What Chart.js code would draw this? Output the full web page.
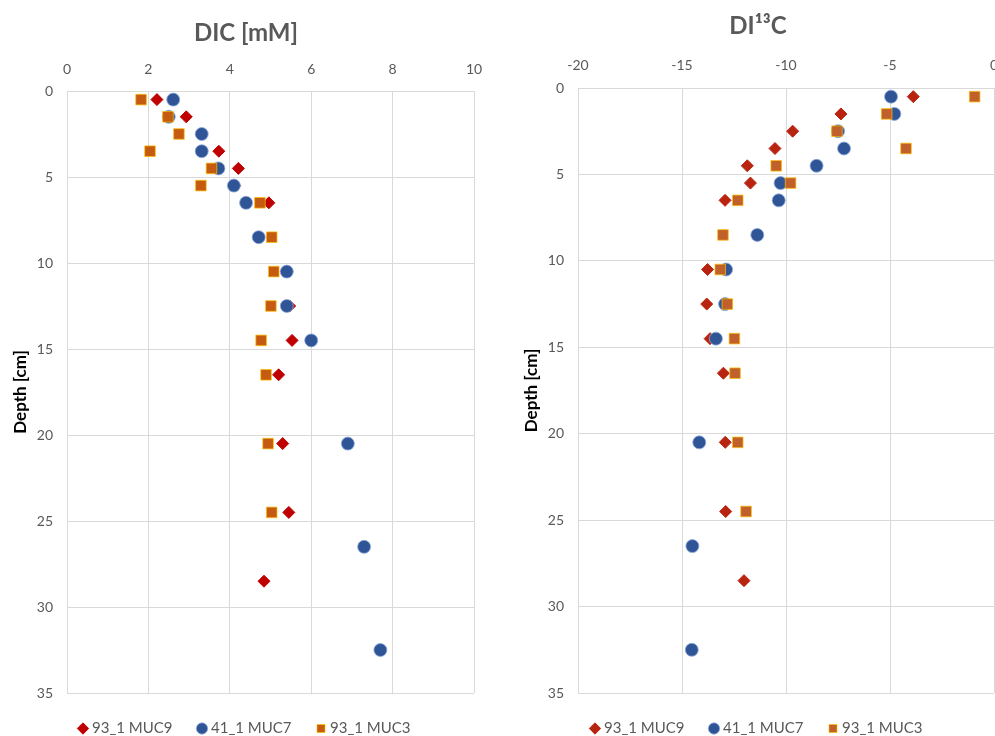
<!DOCTYPE html>
<html>
<head>
<meta charset="utf-8">
<script src="https://cdn.jsdelivr.net/npm/chart.js@4.4.1/dist/chart.umd.min.js"></script>
<style>
  html, body { margin: 0; padding: 0; background: #fff; overflow: hidden; }
  #boxDic { position: absolute; left: 0; top: 0; width: 497px; height: 736px; }
  #boxIso { position: absolute; left: 497px; top: 0; width: 520px; height: 736px; }
</style>
</head>
<body>
<div id="boxDic"><canvas id="chartDic"></canvas></div>
<div id="boxIso"><canvas id="chartIso"></canvas></div>
<script>
// core names (legend)
const coreNames = ["93_1 MUC9", "41_1 MUC7", "93_1 MUC3"];

// sampling depths in cm, one list per core
const depthMuc9 = [0.5, 1.5, 2.5, 3.5, 4.5, 5.5, 6.5, 10.5, 12.5, 14.5, 16.5, 20.5, 24.5, 28.5];
const depthMuc7 = [0.5, 1.5, 2.5, 3.5, 4.5, 5.5, 6.5, 8.5, 10.5, 12.5, 14.5, 20.5, 26.5, 32.5];
const depthMuc3 = [0.5, 1.5, 2.5, 3.5, 4.5, 5.5, 6.5, 8.5, 10.5, 12.5, 14.5, 16.5, 20.5, 24.5];

// DIC [mM]
const dicMuc9 = [2.21, 2.93, 3.30, 3.73, 4.21, 4.12, 4.96, 5.40, 5.47, 5.53, 5.20, 5.30, 5.45, 4.84];
const dicMuc7 = [2.61, 2.50, 3.31, 3.31, 3.72, 4.10, 4.40, 4.71, 5.40, 5.40, 6.00, 6.90, 7.30, 7.70];
const dicMuc3 = [1.82, 2.48, 2.75, 2.04, 3.55, 3.29, 4.74, 5.03, 5.08, 5.01, 4.77, 4.89, 4.94, 5.03];

// d13C of DIC
const isoMuc9 = [-3.88, -7.36, -9.68, -10.53, -11.86, -11.71, -12.93, -13.77, -13.81, -13.65, -13.01, -12.92, -12.90, -12.02];
const isoMuc7 = [-4.95, -4.79, -7.50, -7.21, -8.53, -10.26, -10.35, -11.38, -12.88, -12.93, -13.37, -14.17, -14.50, -14.53];
const isoMuc3 = [-0.93, -5.16, -7.55, -4.23, -10.47, -9.78, -12.32, -13.03, -13.16, -12.82, -12.48, -12.45, -12.32, -11.92];

Chart.defaults.font.family = "Lato, 'Liberation Sans', sans-serif";
Chart.defaults.color = "#595959";

const gridColor = "#D9D9D9";

function makeSet(label, values, depths, style, fill, edge, radius, order) {
  return {
    label: label,
    data: values.map((v, i) => ({ x: v, y: depths[i] })),
    pointStyle: style,
    backgroundColor: fill,
    borderColor: edge,
    borderWidth: 1,
    pointRadius: radius,
    pointHoverRadius: radius,
    showLine: false,
    order: order
  };
}

function drawProfile(canvasId, s) {
  return new Chart(document.getElementById(canvasId), {
    type: "scatter",
    data: {
      datasets: [
        makeSet(coreNames[0], s.muc9, depthMuc9, "rectRot", s.red, s.red, 6, 3),
        makeSet(coreNames[1], s.muc7, depthMuc7, "circle", "#2F5597", "rgba(143,170,220,0.8)", 6.5, 2),
        makeSet(coreNames[2], s.muc3, depthMuc3, "rect", s.orange, "rgba(255,192,0,0.7)", 7.5, 1)
      ]
    },
    options: {
      responsive: true,
      maintainAspectRatio: false,
      animation: false,
      layout: { padding: { left: s.padLeft, right: 23, top: 0, bottom: -10 } },
      plugins: {
        title: {
          display: true,
          text: s.title,
          color: "#595959",
          font: { size: 24, weight: "bold" },
          padding: { top: s.titleTop, bottom: s.titleBottom }
        },
        legend: {
          position: "bottom",
          labels: {
            usePointStyle: true,
            boxWidth: 3,
            boxHeight: 8,
            padding: 28,
            color: "#595959",
            font: { size: 15 },
            // keep legend in dataset order, not drawing order
            sort: (a, b) => a.datasetIndex - b.datasetIndex
          }
        },
        tooltip: { enabled: false }
      },
      scales: {
        x: {
          type: "linear",
          position: "top",
          min: s.xMin,
          max: s.xMax,
          ticks: { stepSize: s.xStep, padding: s.xPad, font: { size: 14 } },
          grid: { color: gridColor, drawTicks: false },
          border: { color: gridColor },
          afterFit: function (scale) { scale.height = s.xHeight; }
        },
        y: {
          type: "linear",
          reverse: true,
          min: 0,
          max: 35,
          ticks: { stepSize: 5, padding: 14, font: { size: 14 } },
          grid: { color: gridColor, drawTicks: false },
          border: { color: gridColor },
          title: {
            display: true,
            text: "Depth [cm]",
            color: "#000",
            font: { size: 17, weight: "bold" },
            padding: { top: s.yTitlePad, bottom: 0 }
          },
          afterFit: function (scale) { scale.width = s.yWidth; }
        }
      }
    }
  });
}

drawProfile("chartDic", {
  title: "DIC [mM]",
  muc9: dicMuc9, muc7: dicMuc7, muc3: dicMuc3,
  red: "#C00000", orange: "#C55A11",
  xMin: 0, xMax: 10, xStep: 2,
  padLeft: 18, yWidth: 49, yTitlePad: -7.5,
  xPad: 13.6, xHeight: 30.4,
  titleTop: 18.6, titleBottom: 13.2
});

drawProfile("chartIso", {
  title: "DI\u00B9\u00B3C",
  muc9: isoMuc9, muc7: isoMuc7, muc3: isoMuc3,
  red: "#B8240F", orange: "#C0602A",
  xMin: -20, xMax: 0, xStep: 5,
  padLeft: 25, yWidth: 56, yTitlePad: -0.5,
  xPad: 14.6, xHeight: 31.2,
  titleTop: 12.1, titleBottom: 15.9
});
</script>
</body>
</html>
